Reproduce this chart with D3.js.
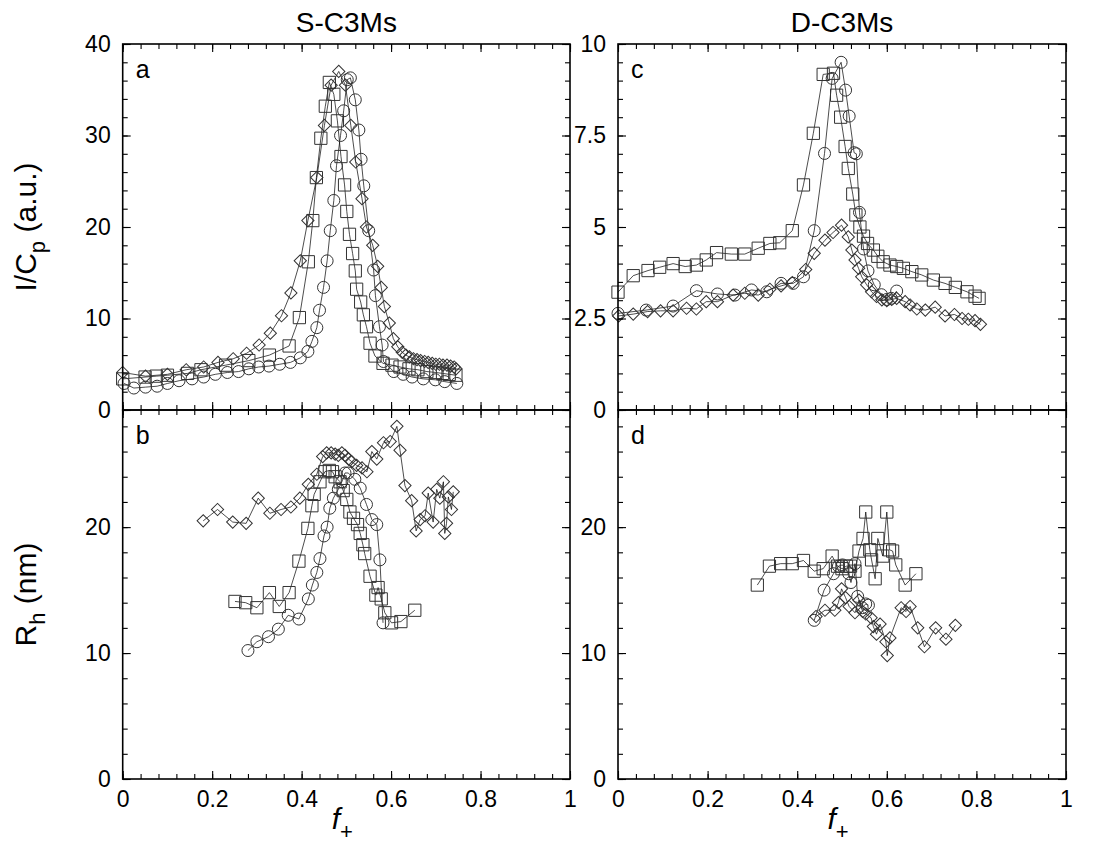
<!DOCTYPE html>
<html>
<head>
<meta charset="utf-8">
<script src="https://cdn.jsdelivr.net/npm/d3@7"></script>
<style>
body { margin: 0; background: #fff; }
</style>
</head>
<body>
<svg id="chart" width="1096" height="850"></svg>
<script>
// *********************************************
// DATA  [f+, value]
// *********************************************
// panel a : I/Cp, S-C3Ms
var aSquares = [[0,3.4],[0.05,3.6],[0.075,3.7],[0.1,3.8],[0.145,4.0],[0.175,4.4],[0.23,4.9],[0.282,5.4],[0.328,6.0],[0.372,7.0],[0.395,10.1],[0.415,16.2],[0.425,20.7],[0.433,25.4],[0.443,29.7],[0.453,33.2],[0.462,35.8],[0.472,34.5],[0.480,31.6],[0.488,27.7],[0.496,24.6],[0.501,21.7],[0.507,19.2],[0.514,17.1],[0.520,15.2],[0.523,13.2],[0.532,11.8],[0.538,10.4],[0.545,9.1],[0.553,7.3],[0.564,5.9],[0.582,5.1],[0.602,4.9],[0.62,4.7],[0.64,4.5],[0.66,4.4],[0.68,4.2],[0.70,4.1],[0.715,4.0],[0.73,3.9],[0.745,3.8]];
var aCircles = [[0.003,2.9],[0.025,2.4],[0.051,2.5],[0.077,2.6],[0.1,2.9],[0.126,3.2],[0.155,3.4],[0.181,3.6],[0.207,3.9],[0.234,4.1],[0.259,4.2],[0.282,4.5],[0.304,4.7],[0.327,4.8],[0.351,5.0],[0.375,5.2],[0.397,5.7],[0.414,6.4],[0.423,7.5],[0.434,9.0],[0.440,10.9],[0.449,13.4],[0.457,16.3],[0.464,19.6],[0.472,22.9],[0.478,26.7],[0.487,30.0],[0.494,32.7],[0.502,36.1],[0.509,36.3],[0.520,33.9],[0.528,30.6],[0.533,27.4],[0.539,24.5],[0.550,19.6],[0.561,15.3],[0.565,12.5],[0.574,9.1],[0.580,7.1],[0.583,5.3],[0.606,4.2],[0.627,3.9],[0.647,3.6],[0.672,3.4],[0.699,3.3],[0.72,3.1],[0.747,2.9]];
var aDiamonds = [[0,4.1],[0.051,3.7],[0.10,3.9],[0.142,4.4],[0.181,4.7],[0.213,5.2],[0.247,5.6],[0.277,6.2],[0.305,7.1],[0.330,8.4],[0.355,10.3],[0.376,12.8],[0.397,16.3],[0.414,20.7],[0.434,25.4],[0.451,31.1],[0.466,35.5],[0.483,37.0],[0.498,35.5],[0.510,31.1],[0.521,27.1],[0.535,23.1],[0.545,20.0],[0.559,18.0],[0.570,15.7],[0.578,13.4],[0.585,11.3],[0.596,9.5],[0.605,7.8],[0.615,6.9],[0.625,6.3],[0.633,6.0],[0.641,5.8],[0.650,5.6],[0.658,5.5],[0.666,5.4],[0.675,5.3],[0.683,5.2],[0.692,5.1],[0.700,5.0],[0.708,5.0],[0.716,4.9],[0.725,4.9],[0.733,4.8],[0.741,4.7],[0.745,4.5]];

// panel b : Rh, S-C3Ms
var bSquares = [[0.251,14.1],[0.275,14.0],[0.300,13.6],[0.328,14.8],[0.350,13.7],[0.372,14.8],[0.394,17.3],[0.414,19.9],[0.423,21.7],[0.428,22.6],[0.441,23.6],[0.452,24.4],[0.462,24.5],[0.469,24.4],[0.475,24.0],[0.486,23.6],[0.493,22.9],[0.501,22.2],[0.508,21.2],[0.516,20.7],[0.525,20.2],[0.531,19.5],[0.537,18.6],[0.541,17.9],[0.553,16.1],[0.566,14.6],[0.571,15.2],[0.578,14.3],[0.586,13.2],[0.601,12.4],[0.622,12.5],[0.653,13.4]];
var bCircles = [[0.280,10.2],[0.300,10.9],[0.326,11.3],[0.348,11.9],[0.370,13.0],[0.394,12.7],[0.415,14.3],[0.424,15.4],[0.434,16.4],[0.441,17.5],[0.450,19.3],[0.457,20.0],[0.463,21.5],[0.471,22.3],[0.482,23.0],[0.490,23.6],[0.497,24.3],[0.504,24.3],[0.519,23.8],[0.531,23.1],[0.545,21.8],[0.557,20.6],[0.568,20.2],[0.575,17.4],[0.582,12.4]];
var bDiamonds = [[0.180,20.5],[0.212,21.4],[0.246,20.4],[0.276,20.3],[0.303,22.3],[0.329,21.1],[0.354,21.4],[0.376,21.6],[0.396,22.3],[0.415,23.4],[0.434,24.2],[0.447,25.6],[0.456,25.9],[0.466,25.9],[0.475,25.8],[0.482,25.7],[0.490,25.9],[0.497,25.7],[0.505,25.4],[0.512,25.2],[0.523,24.9],[0.535,24.7],[0.546,24.4],[0.557,26.0],[0.568,25.4],[0.583,26.7],[0.598,26.8],[0.613,28.0],[0.620,26.1],[0.631,23.3],[0.646,22.1],[0.656,19.7],[0.665,20.6],[0.676,20.9],[0.683,22.7],[0.694,20.4],[0.702,23.0],[0.709,22.3],[0.717,23.6],[0.720,19.5],[0.724,20.3],[0.728,22.4],[0.735,21.4],[0.739,22.8]];

// panel c : I/Cp, D-C3Ms
var cSquares = [[0,3.22],[0.034,3.67],[0.067,3.81],[0.093,3.90],[0.123,4.00],[0.15,3.92],[0.175,3.96],[0.197,4.10],[0.22,4.30],[0.253,4.26],[0.283,4.26],[0.313,4.42],[0.339,4.55],[0.361,4.57],[0.389,4.90],[0.414,6.15],[0.436,7.56],[0.458,9.17],[0.481,9.2],[0.488,8.6],[0.497,8.0],[0.507,7.2],[0.514,6.6],[0.524,5.9],[0.531,5.33],[0.540,5.0],[0.548,4.75],[0.557,4.55],[0.57,4.37],[0.58,4.2],[0.592,4.05],[0.607,3.96],[0.622,3.92],[0.637,3.87],[0.656,3.78],[0.678,3.69],[0.704,3.55],[0.73,3.46],[0.753,3.35],[0.779,3.23],[0.797,3.11],[0.806,3.05]];
var cCircles = [[0,2.64],[0.063,2.73],[0.123,2.84],[0.175,3.26],[0.222,3.17],[0.261,3.14],[0.298,3.28],[0.332,3.23],[0.364,3.46],[0.391,3.46],[0.414,3.64],[0.438,4.9],[0.461,7.01],[0.478,9.06],[0.498,9.5],[0.508,8.74],[0.516,8.03],[0.527,7.03],[0.532,7.0],[0.539,5.4],[0.548,4.4],[0.558,3.8],[0.572,3.42],[0.588,3.15],[0.600,3.02],[0.610,3.05],[0.622,3.25]];
var cDiamonds = [[0.0015,2.57],[0.034,2.62],[0.066,2.69],[0.095,2.71],[0.123,2.71],[0.153,2.78],[0.175,2.76],[0.197,2.96],[0.222,2.96],[0.257,3.14],[0.283,3.19],[0.313,3.14],[0.339,3.30],[0.364,3.39],[0.389,3.48],[0.419,3.84],[0.438,4.28],[0.462,4.64],[0.48,4.85],[0.499,5.05],[0.514,4.73],[0.522,4.37],[0.529,4.10],[0.537,3.87],[0.544,3.64],[0.555,3.42],[0.566,3.23],[0.577,3.10],[0.589,3.01],[0.600,2.99],[0.611,3.02],[0.622,3.05],[0.641,2.96],[0.652,2.87],[0.667,2.76],[0.686,2.73],[0.708,2.81],[0.730,2.57],[0.751,2.61],[0.768,2.50],[0.782,2.48],[0.797,2.44],[0.809,2.34]];

// panel d : Rh, D-C3Ms
var dSquares = [[0.311,15.4],[0.338,16.9],[0.363,17.1],[0.389,17.1],[0.414,17.35],[0.438,16.5],[0.458,16.7],[0.478,17.7],[0.490,16.9],[0.500,16.7],[0.510,16.9],[0.519,16.9],[0.529,16.5],[0.538,18.1],[0.547,19.1],[0.553,21.2],[0.562,18.2],[0.566,17.4],[0.574,15.9],[0.580,19.1],[0.591,17.7],[0.600,21.2],[0.606,18.2],[0.613,18.1],[0.620,17.0],[0.641,15.4],[0.665,16.3]];
var dCircles = [[0.438,12.6],[0.460,15.0],[0.481,16.3],[0.492,16.9],[0.501,17.0],[0.515,16.3],[0.520,15.6],[0.529,17.1],[0.535,14.5],[0.545,13.6],[0.553,13.9],[0.559,13.8]];
var dDiamonds = [[0.442,12.9],[0.462,13.4],[0.484,13.4],[0.492,14.0],[0.499,15.1],[0.508,14.4],[0.516,13.7],[0.529,13.2],[0.538,14.2],[0.546,13.3],[0.553,13.1],[0.565,12.8],[0.570,12.1],[0.577,11.5],[0.585,12.3],[0.598,10.9],[0.601,9.8],[0.607,11.2],[0.632,13.6],[0.643,13.3],[0.652,13.7],[0.669,12.0],[0.684,10.5],[0.709,12.0],[0.732,11.1],[0.753,12.2]];

// axis ticks
var xMajor = [0, 0.2, 0.4, 0.6, 0.8, 1];
var iMajorS = [0, 10, 20, 30, 40];
var iMajorD = [0, 2.5, 5, 7.5, 10];
var rMajor = [0, 10, 20];

// *********************************************
// SETUP
// *********************************************
var FONT = "Arial, 'Liberation Sans', sans-serif";
var svg = d3.select("#chart").style("font-family", FONT);

var colL = [122.7, 570], colR = [618, 1066];
var rowT = [44, 410], rowB = [410, 779];

var sym = {
  sq: d3.symbol().type(d3.symbolSquare).size(150),
  ci: d3.symbol().type(d3.symbolCircle).size(Math.PI * 6 * 6),
  di: d3.symbol().type(d3.symbolSquare).size(75)
};

function axisPart(g, axis, vals, size, labels) {
  g.call(axis.tickValues(vals).tickSize(-size).tickPadding(12)
      .tickFormat(labels ? (d => String(d)) : (() => "")));
  g.select(".domain").remove();
  g.selectAll("line").attr("stroke", "#000").attr("stroke-width", 1.1);
  g.selectAll("text").attr("font-size", 23).attr("font-family", FONT).attr("fill", "#000");
}

function drawPanel(cols, rows, yMax, yMajor, yStep, letter, xLabels, series) {
  var x = d3.scaleLinear().domain([0, 1]).range(cols);
  var y = d3.scaleLinear().domain([0, yMax]).range([rows[1], rows[0]]);
  var g = svg.append("g");

  var line = d3.line().x(d => x(d[0])).y(d => y(d[1]));
  series.forEach(function(s) {
    g.append("path").datum(s.data)
      .attr("d", line).attr("fill", "none")
      .attr("stroke", "#000").attr("stroke-width", 0.7);
  });
  series.forEach(function(s) {
    g.selectAll(null).data(s.data).enter().append("path")
      .attr("d", sym[s.type])
      .attr("transform", d => "translate(" + x(d[0]) + "," + y(d[1]) + ")" + (s.type == "di" ? "rotate(45)" : ""))
      .attr("fill", "none").attr("stroke", "#333").attr("stroke-width", 1);
  });

  var xMinor = d3.range(0, 1.0001, 0.04);
  var yMinor = d3.range(0, yMax + 1e-6, yStep);

  // bottom
  axisPart(g.append("g").attr("transform", "translate(0," + rows[1] + ")"), d3.axisBottom(x), xMinor, 5, false);
  axisPart(g.append("g").attr("transform", "translate(0," + rows[1] + ")"), d3.axisBottom(x), xMajor, 8, xLabels);
  // top
  axisPart(g.append("g").attr("transform", "translate(0," + rows[0] + ")"), d3.axisTop(x), xMinor, 5, false);
  axisPart(g.append("g").attr("transform", "translate(0," + rows[0] + ")"), d3.axisTop(x), xMajor, 8, false);
  // left
  axisPart(g.append("g").attr("transform", "translate(" + cols[0] + ",0)"), d3.axisLeft(y), yMinor, 5, false);
  axisPart(g.append("g").attr("transform", "translate(" + cols[0] + ",0)"), d3.axisLeft(y), yMajor, 8, true);
  // right
  axisPart(g.append("g").attr("transform", "translate(" + cols[1] + ",0)"), d3.axisRight(y), yMinor, 5, false);
  axisPart(g.append("g").attr("transform", "translate(" + cols[1] + ",0)"), d3.axisRight(y), yMajor, 8, false);

  g.append("rect")
    .attr("x", cols[0]).attr("y", rows[0])
    .attr("width", cols[1] - cols[0]).attr("height", rows[1] - rows[0])
    .attr("fill", "none").attr("stroke", "#000").attr("stroke-width", 1.6);

  g.append("text")
    .attr("x", cols[0] + 13).attr("y", rows[0] + 34)
    .attr("font-size", 25).text(letter);
}

drawPanel(colL, rowT, 40, iMajorS, 2, "a", false,
  [{type: "sq", data: aSquares}, {type: "ci", data: aCircles}, {type: "di", data: aDiamonds}]);
drawPanel(colL, rowB, 29.3, rMajor, 2, "b", true,
  [{type: "sq", data: bSquares}, {type: "ci", data: bCircles}, {type: "di", data: bDiamonds}]);
drawPanel(colR, rowT, 10, iMajorD, 0.5, "c", false,
  [{type: "sq", data: cSquares}, {type: "ci", data: cCircles}, {type: "di", data: cDiamonds}]);
drawPanel(colR, rowB, 29.3, rMajor, 2, "d", true,
  [{type: "sq", data: dSquares}, {type: "ci", data: dCircles}, {type: "di", data: dDiamonds}]);

// titles
svg.append("text").attr("x", (colL[0] + colL[1]) / 2).attr("y", 32)
  .attr("text-anchor", "middle").attr("font-size", 28).text("S-C3Ms");
svg.append("text").attr("x", (colR[0] + colR[1]) / 2).attr("y", 32)
  .attr("text-anchor", "middle").attr("font-size", 28).text("D-C3Ms");

// axis labels
var yl1 = svg.append("text").attr("transform", "translate(36," + (rowT[0] + rowT[1]) / 2 + ") rotate(-90)")
  .attr("text-anchor", "middle").attr("font-size", 30);
yl1.append("tspan").text("I/C");
yl1.append("tspan").attr("dy", 9).attr("font-size", 22).text("p");
yl1.append("tspan").attr("dy", -9).text(" (a.u.)");

var yl2 = svg.append("text").attr("transform", "translate(36," + (rowB[0] + rowB[1]) / 2 + ") rotate(-90)")
  .attr("text-anchor", "middle").attr("font-size", 30);
yl2.append("tspan").text("R");
yl2.append("tspan").attr("dy", 9).attr("font-size", 22).text("h");
yl2.append("tspan").attr("dy", -9).text(" (nm)");

[colL, colR].forEach(function(c) {
  var t = svg.append("text").attr("x", (c[0] + c[1]) / 2 - 4).attr("y", 829)
    .attr("text-anchor", "middle").attr("font-size", 30);
  t.append("tspan").attr("font-style", "italic").text("f");
  t.append("tspan").attr("dy", 10).attr("font-size", 22).text("+");
});
</script>
</body>
</html>
